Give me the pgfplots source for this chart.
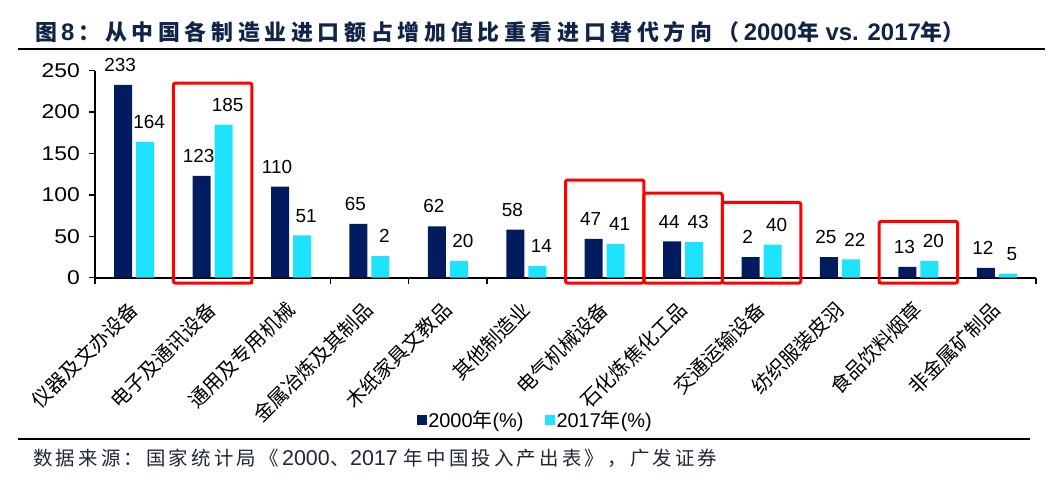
\documentclass[border=0pt]{standalone}
\usepackage{pgfplots}
\usepackage{pgfplotstable}
\pgfplotsset{compat=1.18}
\usepackage{fontspec}
\setmainfont{Liberation Sans}
\newfontfamily\cjk{Noto Sans CJK SC}
\definecolor{navybar}{RGB}{0,27,94}
\definecolor{cyanbar}{RGB}{30,227,255}
\definecolor{titlecol}{RGB}{16,36,72}
\definecolor{srccol}{RGB}{30,38,56}
\definecolor{boxred}{RGB}{255,0,0}
\def\ls#1{\ifx#1\relax\else#1\kern4.7bp\expandafter\ls\fi}
\def\lss#1{\ifx#1\relax\else#1\kern3.2bp\expandafter\lss\fi}

\pgfplotstableread{
x a b la lb
0 233 164 233 164
1 123 185 123 185
2 110 51 110 51
3 65 26 65 2
4 62 20 62 20
5 58 14 58 14
6 47 41 47 41
7 44 43 44 43
8 25 40 2 40
9 25 22 25 22
10 13 20 13 20
11 12 5 12 5
}\data

\begin{document}
\begin{tikzpicture}
\useasboundingbox (0,0) rectangle (1059bp,-482bp);
% title
\node[anchor=base west, text=titlecol, inner sep=0pt] at (35bp,-40bp)
 {\cjk\fontsize{22}{22}\selectfont\bfseries 图\kern4bp{\rmfamily\fontsize{24}{24}\selectfont\bfseries 8}\kern4bp\ls ：从中国各制造业进口额占增加值比重看进口替代方向（\relax{\rmfamily\fontsize{24}{24}\selectfont\bfseries 2000}年{\rmfamily\fontsize{24}{24}\selectfont\bfseries\ vs. 2017}年）};
\draw[line width=1.5bp, black] (18bp,-49bp) -- (1045bp,-49bp);
% source
\draw[line width=1.3bp, black] (18bp,-439bp) -- (1030bp,-439bp);
\node[anchor=base west, text=srccol, inner sep=0pt] at (33bp,-465bp)
 {\cjk\fontsize{19.5}{19.5}\selectfont\lss 数据来源：国家统计局《\relax{\rmfamily\fontsize{21.5}{21.5}\selectfont 2000}\kern1bp{\cjk 、}{\rmfamily\fontsize{21.5}{21.5}\selectfont 2017 }\lss 年中国投入产出表》，广发证券\relax};

\begin{axis}[
  at={(95bp,-277.7bp)}, anchor=south west,
  scale only axis, width=941bp, height=207bp,
  ybar=4bp, bar width=18bp,
  xmin=-0.5, xmax=11.5, ymin=0, ymax=250,
  axis lines*=left,
  axis line style={line width=1.6bp, black},
  ytick={0,50,100,150,200,250},
  xtick={-0.5,0.5,...,11.5},
  x tick label as interval,
  xticklabels={仪器及文办设备,电子及通讯设备,通用及专用机械,金属冶炼及其制品,木纸家具文教品,其他制造业,电气机械设备,石化炼焦化工品,交通运输设备,纺织服装皮羽,食品饮料烟草,非金属矿制品},
  xticklabel style={font=\cjk\fontsize{20}{20}\selectfont, rotate=45, anchor=east, inner sep=0pt},
  xticklabel shift=22bp,
  yticklabel style={font=\fontsize{20}{20}\selectfont, inner sep=0pt, xscale=1.15},
  yticklabel shift=9bp,
  /pgf/number format/assume math mode=true,
  tick align=outside,
  major tick length=6bp,
  tick style={line width=1.4bp, black},
  clip=false,
  point meta=explicit symbolic,
  nodes near coords,
  every node near coord/.append style={font=\fontsize{19}{19}\selectfont, text=black, anchor=south, inner sep=0pt, yshift=13bp},
  legend style={at={(0.4676,-0.687)}, anchor=center, draw=none, fill=none,
    legend columns=2, font=\fontsize{20}{20}\selectfont,
    /tikz/every even column/.append style={column sep=20bp},
    nodes={inner sep=1.5bp}},
  legend image code/.code={\fill[#1] (0bp,-5bp) rectangle (10bp,5bp);},
]
\addplot[fill=navybar, draw=none, every node near coord/.append style={xshift=-3bp}] table[x=x, y=a, meta=la] {\data};
\addplot[fill=cyanbar, draw=none, every node near coord/.append style={xshift=4bp}] table[x=x, y=b, meta=lb] {\data};
\legend{2000{\cjk 年}(\%), 2017{\cjk 年}(\%)}
\draw[boxred, line width=3bp, rounded corners=2bp] (axis cs:0.5,-6.5) rectangle (axis cs:1.5,235);
\draw[boxred, line width=3bp, rounded corners=2bp] (axis cs:5.5,-6.5) rectangle (axis cs:6.5,118);
\draw[boxred, line width=3bp, rounded corners=2bp] (axis cs:6.5,-6.5) rectangle (axis cs:7.5,102);
\draw[boxred, line width=3bp, rounded corners=2bp] (axis cs:7.5,-6.5) rectangle (axis cs:8.5,91);
\draw[boxred, line width=3bp, rounded corners=2bp] (axis cs:9.5,-6.5) rectangle (axis cs:10.5,68);
\end{axis}
\end{tikzpicture}
\end{document}
